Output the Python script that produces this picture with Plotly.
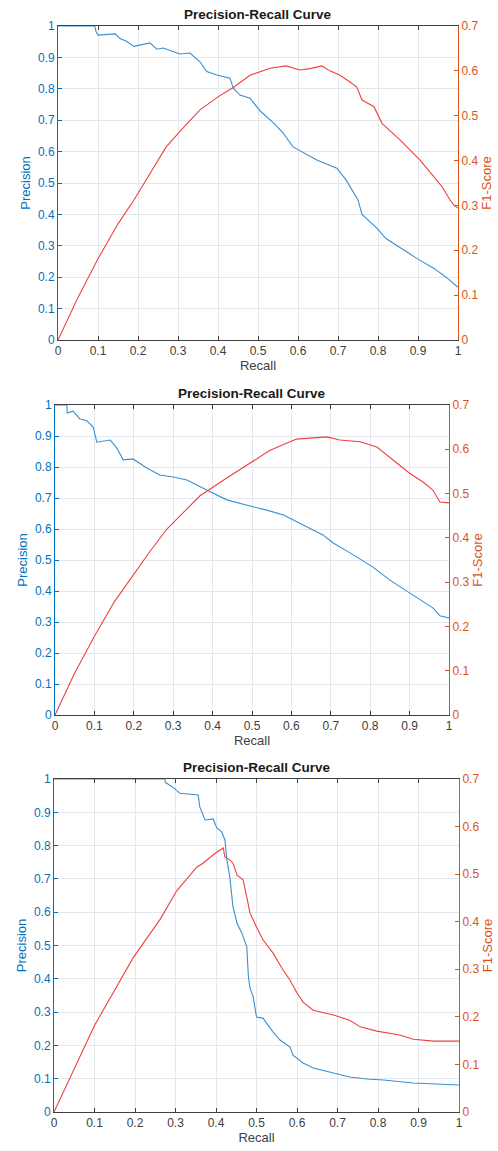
import plotly.graph_objects as go

# ---------------- data ----------------
p1_prec_recall = [0, 0.092, 0.095, 0.10, 0.143, 0.155, 0.17, 0.19, 0.23, 0.247, 0.263, 0.305, 0.33, 0.355, 0.372, 0.397, 0.43, 0.438, 0.455, 0.48, 0.505, 0.54, 0.5625, 0.5875, 0.647, 0.697, 0.72, 0.75, 0.76, 0.797, 0.82, 0.897, 0.94, 0.97, 1.0]
p1_precision = [1, 1, 0.982, 0.971, 0.975, 0.96, 0.952, 0.935, 0.946, 0.926, 0.93, 0.911, 0.914, 0.886, 0.855, 0.844, 0.834, 0.802, 0.78, 0.77, 0.73, 0.69, 0.66, 0.615, 0.573, 0.547, 0.51, 0.446, 0.40, 0.356, 0.323, 0.26, 0.228, 0.20, 0.168]
p1_f1_recall = [0, 0.05, 0.10, 0.15, 0.19, 0.23, 0.27, 0.31, 0.355, 0.40, 0.44, 0.48, 0.53, 0.57, 0.605, 0.63, 0.66, 0.68, 0.705, 0.73, 0.747, 0.76, 0.79, 0.81, 0.855, 0.905, 0.96, 0.98, 0.99, 1.0]
p1_f1 = [0, 0.095, 0.181, 0.259, 0.312, 0.37, 0.43, 0.47, 0.513, 0.542, 0.564, 0.59, 0.606, 0.611, 0.602, 0.605, 0.611, 0.60, 0.59, 0.575, 0.564, 0.535, 0.52, 0.483, 0.446, 0.401, 0.342, 0.312, 0.30, 0.294]

p2_prec_recall = [0, 0.03, 0.031, 0.046, 0.063, 0.08, 0.097, 0.106, 0.14, 0.157, 0.173, 0.198, 0.233, 0.266, 0.30, 0.335, 0.385, 0.436, 0.495, 0.54, 0.58, 0.622, 0.68, 0.706, 0.749, 0.807, 0.85, 0.90, 0.935, 0.96, 0.977, 1.0]
p2_precision = [1, 1, 0.974, 0.98, 0.955, 0.95, 0.929, 0.88, 0.887, 0.861, 0.823, 0.826, 0.797, 0.774, 0.768, 0.758, 0.726, 0.694, 0.674, 0.66, 0.645, 0.619, 0.581, 0.555, 0.523, 0.477, 0.435, 0.394, 0.365, 0.345, 0.32, 0.313]
p2_f1_recall = [0, 0.05, 0.10, 0.15, 0.19, 0.24, 0.284, 0.33, 0.368, 0.436, 0.495, 0.546, 0.613, 0.65, 0.69, 0.723, 0.774, 0.817, 0.858, 0.90, 0.934, 0.959, 0.977, 1.0]
p2_f1 = [0, 0.095, 0.178, 0.255, 0.305, 0.368, 0.42, 0.46, 0.495, 0.535, 0.569, 0.598, 0.623, 0.626, 0.628, 0.621, 0.617, 0.605, 0.576, 0.546, 0.526, 0.508, 0.481, 0.479]

p3_prec_recall = [0, 0.274, 0.275, 0.294, 0.311, 0.356, 0.36, 0.373, 0.393, 0.402, 0.414, 0.422, 0.427, 0.434, 0.442, 0.452, 0.464, 0.476, 0.48, 0.484, 0.492, 0.50, 0.516, 0.541, 0.558, 0.583, 0.59, 0.615, 0.64, 0.69, 0.73, 0.772, 0.813, 0.887, 0.937, 1.0]
p3_precision = [1, 1, 0.99, 0.975, 0.957, 0.952, 0.916, 0.877, 0.88, 0.853, 0.841, 0.817, 0.757, 0.706, 0.616, 0.567, 0.537, 0.496, 0.406, 0.372, 0.345, 0.285, 0.282, 0.24, 0.216, 0.195, 0.171, 0.147, 0.132, 0.117, 0.105, 0.099, 0.096, 0.087, 0.084, 0.081]
p3_f1_recall = [0, 0.10, 0.196, 0.262, 0.303, 0.353, 0.368, 0.398, 0.418, 0.422, 0.434, 0.442, 0.452, 0.467, 0.479, 0.484, 0.50, 0.516, 0.541, 0.565, 0.583, 0.60, 0.615, 0.64, 0.69, 0.73, 0.756, 0.797, 0.854, 0.887, 0.937, 1.0]
p3_f1 = [0, 0.182, 0.325, 0.405, 0.465, 0.515, 0.523, 0.544, 0.555, 0.536, 0.53, 0.523, 0.498, 0.488, 0.439, 0.418, 0.389, 0.362, 0.334, 0.299, 0.277, 0.25, 0.231, 0.214, 0.204, 0.193, 0.179, 0.17, 0.162, 0.153, 0.149, 0.149]

title_text = "Precision-Recall Curve"
x_label = "Recall"
y_left_label = "Precision"
y_right_label = "F1-Score"
x_ticks = [0, 0.1, 0.2, 0.3, 0.4, 0.5, 0.6, 0.7, 0.8, 0.9, 1]
x_ticktext = ["0", "0.1", "0.2", "0.3", "0.4", "0.5", "0.6", "0.7", "0.8", "0.9", "1"]
left_ticks = [0, 0.1, 0.2, 0.3, 0.4, 0.5, 0.6, 0.7, 0.8, 0.9, 1]
left_ticktext = ["0", "0.1", "0.2", "0.3", "0.4", "0.5", "0.6", "0.7", "0.8", "0.9", "1"]
right_ticks = [0, 0.1, 0.2, 0.3, 0.4, 0.5, 0.6, 0.7]
right_ticktext = ["0", "0.1", "0.2", "0.3", "0.4", "0.5", "0.6", "0.7"]

# ---------------- styling ----------------
W, H = 498, 1151
BLUE_AX = "#0072BD"
ORANGE_AX = "#D95319"
BLUE_LINE = "#3b8fce"
RED_LINE = "#f04040"
GRAY = "#404040"
GRID = "#e4e8ee"
FONT = "Liberation Sans, Arial, Helvetica, sans-serif"

# panel pixel boxes: (left, right, top, bottom)
panels = [
    (58, 458, 26, 340),
    (55, 449, 405, 715),
    (54, 459, 779, 1112),
]
datasets = [
    (p1_prec_recall, p1_precision, p1_f1_recall, p1_f1),
    (p2_prec_recall, p2_precision, p2_f1_recall, p2_f1),
    (p3_prec_recall, p3_precision, p3_f1_recall, p3_f1),
]

fig = go.Figure()
layout = dict(
    width=W, height=H,
    margin=dict(l=0, r=0, t=0, b=0, autoexpand=False),
    paper_bgcolor="white", plot_bgcolor="white",
    showlegend=False,
    font=dict(family=FONT, size=12, color=GRAY),
    annotations=[],
)

for i, ((l, r, t, b), (pr_r, pr_p, f_r, f_v)) in enumerate(zip(panels, datasets)):
    xn = "x" if i == 0 else f"x{i+1}"
    yl = f"y{2*i+1}" if i > 0 else "y"
    yr = f"y{2*i+2}"
    xkey = "xaxis" if i == 0 else f"xaxis{i+1}"
    ylkey = "yaxis" if i == 0 else f"yaxis{2*i+1}"
    yrkey = f"yaxis{2*i+2}"

    xd = [l / W, r / W]
    yd = [1 - b / H, 1 - t / H]

    fig.add_trace(go.Scatter(x=pr_r, y=pr_p, mode="lines", xaxis=xn, yaxis=yl,
                             line=dict(color=BLUE_LINE, width=1.1), name="Precision"))
    fig.add_trace(go.Scatter(x=f_r, y=f_v, mode="lines", xaxis=xn, yaxis=yr,
                             line=dict(color=RED_LINE, width=1.1), name="F1-Score"))

    layout[xkey] = dict(
        domain=xd, anchor=yl, range=[0, 1], automargin=False,
        tickvals=x_ticks, ticktext=x_ticktext,
        ticks="inside", ticklen=4, tickcolor=GRAY, mirror="ticks",
        showline=True, linecolor=GRAY, linewidth=1,
        showgrid=True, gridcolor=GRID, gridwidth=1, zeroline=False,
        tickfont=dict(size=12, color=GRAY),
        title=dict(text=x_label, font=dict(size=13, color=GRAY), standoff=2),
    )
    layout[ylkey] = dict(
        domain=yd, anchor=xn, range=[0, 1], side="left", automargin=False,
        tickvals=left_ticks, ticktext=left_ticktext,
        ticks="inside", ticklen=4, tickcolor=BLUE_AX,
        showline=True, linecolor=BLUE_AX, linewidth=1,
        showgrid=True, gridcolor=GRID, gridwidth=1, zeroline=False,
        tickfont=dict(size=12, color=BLUE_AX),
        title=dict(text=y_left_label, font=dict(size=13, color=BLUE_AX), standoff=4),
    )
    layout[yrkey] = dict(
        domain=yd, anchor=xn, overlaying=yl, range=[0, 0.7], side="right", automargin=False,
        tickvals=right_ticks, ticktext=right_ticktext,
        ticks="inside", ticklen=4, tickcolor=ORANGE_AX,
        showline=True, linecolor=ORANGE_AX, linewidth=1,
        showgrid=False, zeroline=False,
        tickfont=dict(size=12, color=ORANGE_AX),
        title=dict(text=y_right_label, font=dict(size=13, color=ORANGE_AX), standoff=4),
    )
    layout["annotations"].append(dict(
        text=f"<b>{title_text}</b>", xref="paper", yref="paper",
        x=(l + r) / 2 / W, y=1 - (t - 2) / H, xanchor="center", yanchor="bottom",
        showarrow=False, font=dict(size=13.5, color="#1a1a1a"),
    ))

fig.update_layout(**layout)
fig.write_html(
    "out.html",
    config={"displayModeBar": False},
    post_script="document.body.style.margin='0';document.body.style.overflow='hidden';",
)
